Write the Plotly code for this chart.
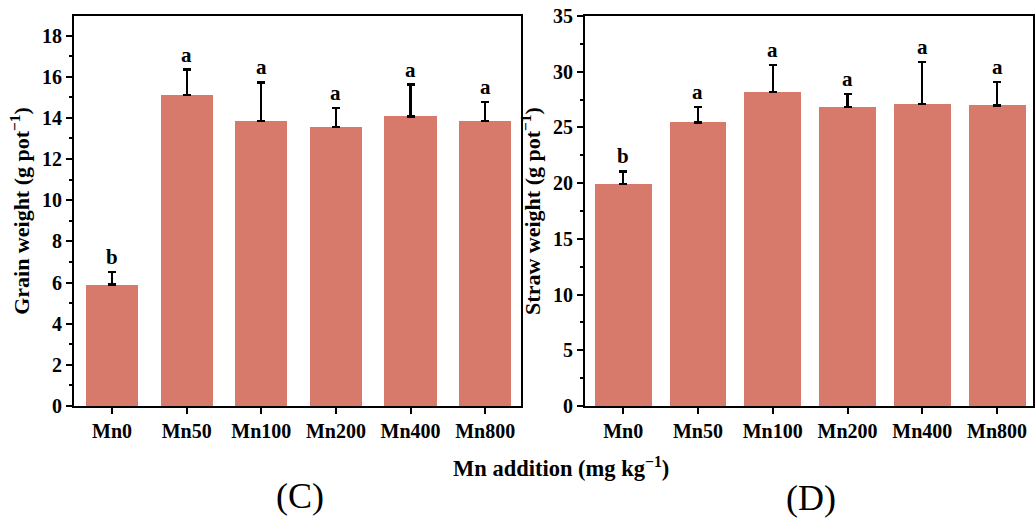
import plotly.graph_objects as go

categories = ["Mn0", "Mn50", "Mn100", "Mn200", "Mn400", "Mn800"]
grain_mean = [5.9, 15.1, 13.85, 13.55, 14.07, 13.85]
grain_err = [0.6, 1.25, 1.87, 0.92, 1.55, 0.92]
grain_letters = ["b", "a", "a", "a", "a", "a"]
straw_mean = [19.9, 25.45, 28.2, 26.8, 27.1, 26.97]
straw_err = [1.15, 1.35, 2.42, 1.22, 3.8, 2.1]
straw_letters = ["b", "a", "a", "a", "a", "a"]

W, H = 1035, 522
BAR = "#D77A6B"
FONT = "Liberation Serif"

fig = go.Figure()
fig.add_trace(go.Bar(x=categories, y=grain_mean, width=0.70, marker=dict(color=BAR, line=dict(width=0)),
                     error_y=dict(type="data", array=grain_err, arrayminus=[0]*6, symmetric=False,
                                  color="black", thickness=2.2, width=4),
                     xaxis="x", yaxis="y", showlegend=False, hoverinfo="skip"))
fig.add_trace(go.Bar(x=categories, y=straw_mean, width=0.76, marker=dict(color=BAR, line=dict(width=0)),
                     error_y=dict(type="data", array=straw_err, arrayminus=[0]*6, symmetric=False,
                                  color="black", thickness=2.2, width=4),
                     xaxis="x2", yaxis="y2", showlegend=False, hoverinfo="skip"))

ann = []
for c, m, e, l in zip(categories, grain_mean, grain_err, grain_letters):
    ann.append(dict(x=c, y=m + e, xref="x", yref="y", text="<b>%s</b>" % l, showarrow=False,
                    xanchor="center", yanchor="bottom", yshift=1,
                    font=dict(family=FONT, size=21, color="black")))
for c, m, e, l in zip(categories, straw_mean, straw_err, straw_letters):
    ann.append(dict(x=c, y=m + e, xref="x2", yref="y2", text="<b>%s</b>" % l, showarrow=False,
                    xanchor="center", yanchor="bottom", yshift=1,
                    font=dict(family=FONT, size=21, color="black")))
ann.append(dict(x=561 / W, y=1 - 467 / H, xref="paper", yref="paper", showarrow=False,
                xanchor="center", yanchor="middle",
                text="<b>Mn addition (mg kg<sup>\u22121</sup>)</b>",
                font=dict(family=FONT, size=22.5, color="black")))
ann.append(dict(x=300 / W, y=1 - 496 / H, xref="paper", yref="paper", showarrow=False,
                xanchor="center", yanchor="middle",
                text="(C)", font=dict(family=FONT, size=36, color="black")))
ann.append(dict(x=811 / W, y=1 - 498 / H, xref="paper", yref="paper", showarrow=False,
                xanchor="center", yanchor="middle",
                text="(D)", font=dict(family=FONT, size=36, color="black")))

tickfont = dict(family=FONT, size=20, color="black")
common_x = dict(type="category", range=[-0.51, 5.48], showline=True, linecolor="black", linewidth=2,
                mirror=True, ticks="outside", ticklen=6, tickwidth=2, tickcolor="black",
                tickfont=tickfont, showgrid=False, zeroline=False, automargin=False,
                tickprefix="<b>", ticksuffix="</b>")
common_y = dict(showline=True, linecolor="black", linewidth=2, mirror=True, ticks="outside",
                ticklen=6, tickwidth=2, tickcolor="black", tickfont=tickfont, showgrid=False,
                zeroline=False, automargin=False, tickprefix="<b>", ticksuffix="</b>")

yd = [1 - 406 / H, 1 - 16 / H]
fig.update_layout(
    template="none",
    width=W, height=H, margin=dict(l=0, r=0, t=0, b=0, pad=0), autosize=False,
    paper_bgcolor="white", plot_bgcolor="white", bargap=0, hovermode=False,
    font=dict(family=FONT, color="black"),
    xaxis=dict(domain=[74 / W, 521 / W], anchor="y", **common_x),
    xaxis2=dict(domain=[585 / W, 1033 / W], anchor="y2", **common_x),
    yaxis=dict(domain=yd, anchor="x", range=[0, 18.95], dtick=2, tick0=0,
               minor=dict(dtick=1, ticks="outside", ticklen=3, tickwidth=2, tickcolor="black"),
               title=dict(text="<b>Grain weight (g pot<sup>\u22121</sup>)</b>", standoff=6,
                          font=dict(family=FONT, size=22, color="black")),
               **common_y),
    yaxis2=dict(domain=yd, anchor="x2", range=[0, 35], dtick=5, tick0=0,
                minor=dict(dtick=2.5, ticks="outside", ticklen=3, tickwidth=2, tickcolor="black"),
                title=dict(text="<b>Straw weight (g pot<sup>\u22121</sup>)</b>", standoff=6,
                           font=dict(family=FONT, size=22, color="black")),
                **common_y),
    annotations=ann,
)
fig.write_html("out.html", config={"displayModeBar": False, "staticPlot": True},
               post_script="document.body.style.margin='0px';")
